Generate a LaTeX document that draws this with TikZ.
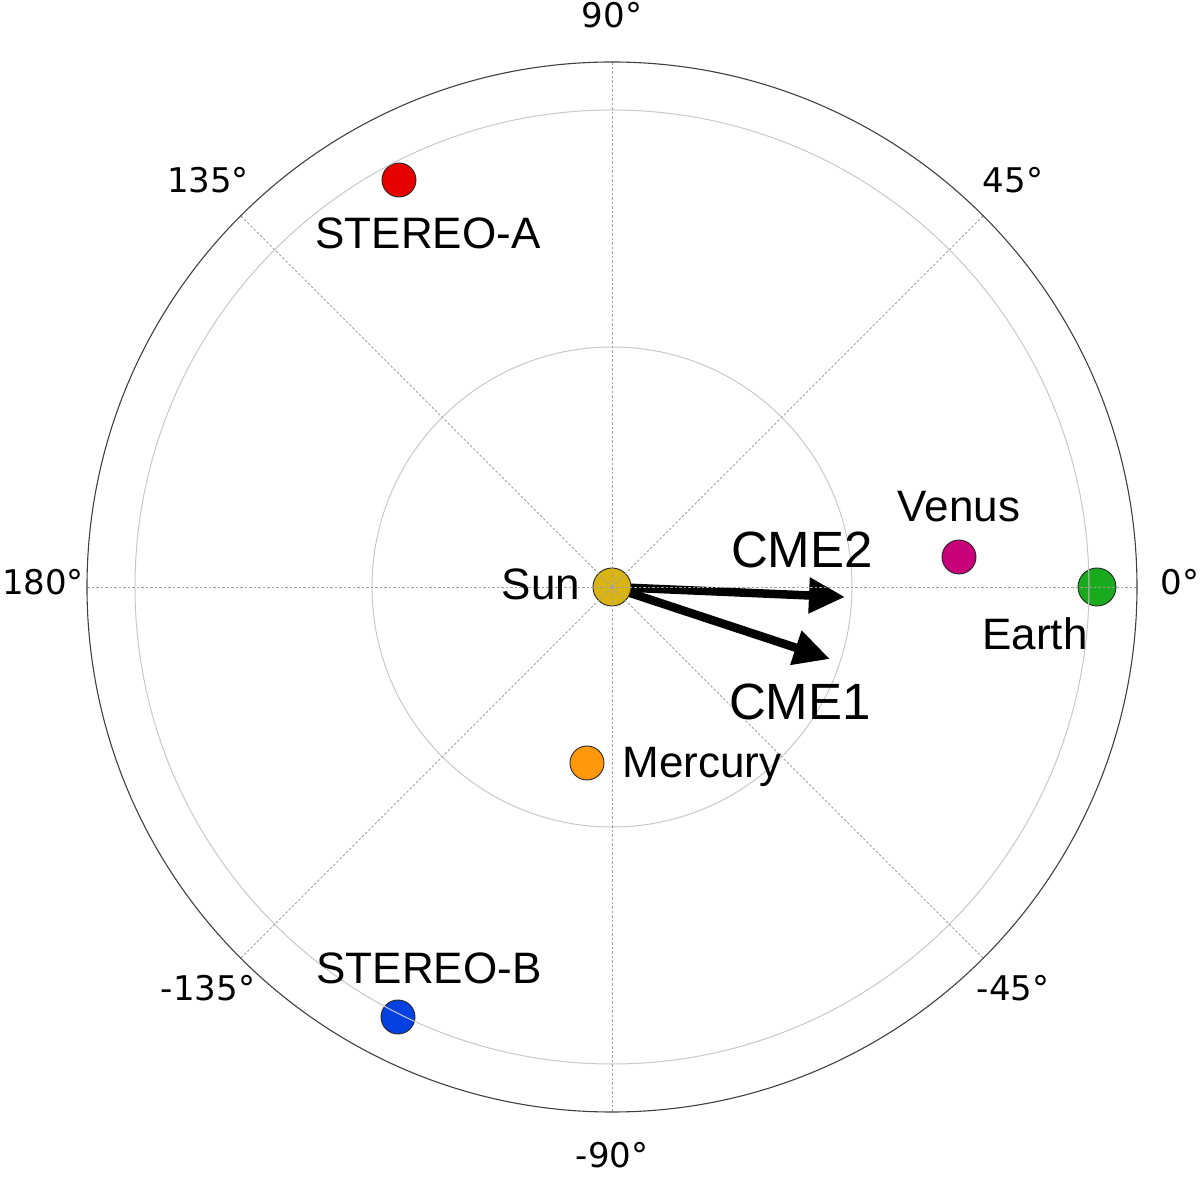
\documentclass[tikz,border=0pt]{standalone}
\usepackage{fontspec}
\setmainfont{Liberation Sans}
\newfontfamily\anglefont{DejaVu Sans}
\usetikzlibrary{arrows.meta}
\definecolor{sunc}{RGB}{218,180,18}
\definecolor{earthc}{RGB}{26,170,30}
\definecolor{venusc}{RGB}{200,0,122}
\definecolor{mercc}{RGB}{255,152,10}
\definecolor{stac}{RGB}{230,0,0}
\definecolor{stbc}{RGB}{5,65,225}
\definecolor{ringc}{RGB}{200,200,200}
\definecolor{spokec}{RGB}{160,160,160}
\tikzset{
  body/.style={circle, draw=black!85, line width=0.9pt, inner sep=0pt},
  lbl/.style={anchor=base, inner sep=0pt, font=\fontsize{44}{50}\selectfont},
  cmelbl/.style={anchor=base, inner sep=0pt, font=\fontsize{51}{58}\selectfont},
  anglbl/.style={anchor=base, inner sep=0pt, font=\anglefont\fontsize{34}{38}\selectfont},
  ring/.style={draw=ringc, line width=1pt},
  spoke/.style={draw=spokec, line width=0.9pt, dash pattern=on 2.5pt off 2pt},
  cme/.style={line width=8.5pt, -{Triangle[length=36pt,width=34pt]}}
}
\begin{document}
\begin{tikzpicture}[x=1pt,y=1pt]
\useasboundingbox (-612,-593) rectangle (588,587);
% bodies (under the grid)
\node[body, fill=earthc, minimum size=38pt] (earth) at (485,0) {};
\node[body, fill=venusc, minimum size=34pt] (venus) at (347,30) {};
\node[body, fill=mercc, minimum size=34pt] (mercury) at (-25,-176) {};
\node[body, fill=stac, minimum size=34pt] (sta) at (-213,407) {};
\node[body, fill=stbc, minimum size=34pt] (stb) at (-214,-430) {};
% CME arrows
\coordinate (cme2tip) at (233,-10);
\coordinate (cme1tip) at (218,-72);
\draw[cme] (0,0) -- (cme2tip);
\draw[cme] (0,0) -- (cme1tip);
\node[body, fill=sunc, minimum size=38pt] (sun) at (0,0) {};
% grid
\draw[ring] (0,0) circle[radius=240];
\draw[ring] (0,0) circle[radius=477];
\foreach \a in {0,45,...,315} {
  \draw[spoke] (0,0) -- (\a:525);
}
\draw[black!75, line width=1.1pt] (0,0) circle[radius=525];
% angle labels
\node[anglbl] (a90) at (0,559) {90°};
\node[anglbl] (am90) at (0,-580) {-90°};
\node[anglbl] (a180) at (-569,-8) {180°};
\node[anglbl] (a0) at (568,-8) {0°};
\node[anglbl] (a135) at (-404,394) {135°};
\node[anglbl] (a45) at (401,394) {45°};
\node[anglbl] (am135) at (-404,-413) {-135°};
\node[anglbl] (am45) at (401,-413) {-45°};
% object labels
\node[lbl] (sunl) at (-71,-13) {Sun};
\node[cmelbl] (cme2l) at (190,19) {CME2};
\node[cmelbl] (cme1l) at (188,-133) {CME1};
\node[lbl] (venusl) at (347,65) {Venus};
\node[lbl] (earthl) at (423,-63) {Earth};
\node[lbl] (mercl) at (90,-191) {Mercury};
\node[lbl] (stal) at (-184,338) {STEREO-A};
\node[lbl] (stbl) at (-183,-396) {STEREO-B};
\end{tikzpicture}
\end{document}
